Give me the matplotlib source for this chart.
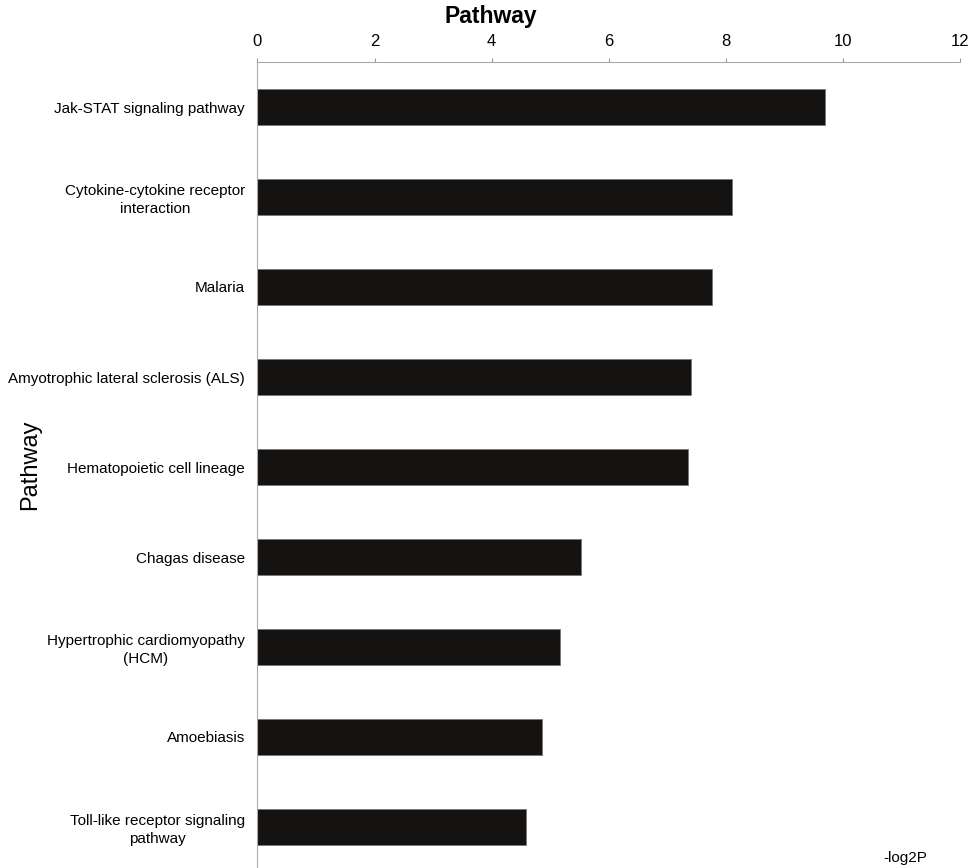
import matplotlib
matplotlib.use('Agg')
import matplotlib.pyplot as plt

plt.rcParams['font.family'] = ['Liberation Sans', 'DejaVu Sans']

# pathways, top to bottom, and their -log2P scores
pathways = ['Jak-STAT signaling pathway',
            'Cytokine-cytokine receptor\ninteraction',
            'Malaria',
            'Amyotrophic lateral sclerosis (ALS)',
            'Hematopoietic cell lineage',
            'Chagas disease',
            'Hypertrophic cardiomyopathy\n(HCM)',
            'Amoebiasis',
            'Toll-like receptor signaling\npathway']
scores = [9.70, 8.10, 7.76, 7.40, 7.35, 5.53, 5.16, 4.86, 4.59]
xticks = [0, 2, 4, 6, 8, 10, 12]

fig = plt.figure(figsize=(9.7, 8.68), dpi=100)
ax = fig.add_axes([257.5 / 970, -4 / 868, 702.5 / 970, 810 / 868])

ypos = list(range(len(pathways)))
ax.barh(ypos, scores, height=0.4, color='#151212', edgecolor='#777777', linewidth=0.6)

ax.set_ylim(len(pathways) - 0.5, -0.5)
ax.set_xlim(0, 12)
ax.set_xticks(xticks)
ax.xaxis.tick_top()
ax.tick_params(axis='x', direction='out', length=3, width=0.8, color='#999999',
               labelsize=12, pad=6)
ax.set_yticks(ypos)
ax.set_yticklabels(pathways, multialignment='center', fontsize=11, linespacing=1.3)
ax.tick_params(axis='y', length=0, pad=9)

for side in ['right', 'bottom']:
    ax.spines[side].set_visible(False)
for side in ['left', 'top']:
    ax.spines[side].set_color('#aaaaaa')
    ax.spines[side].set_linewidth(0.8)

fig.text(491 / 970, 1 - 17 / 868, 'Pathway', ha='center', va='center',
         fontsize=16.5, fontweight='bold')
fig.text(30 / 970, 1 - 465 / 868, 'Pathway', ha='center', va='center',
         fontsize=17, rotation=90)
fig.text(905 / 970, 1 - 858 / 868, '-log2P', ha='center', va='center', fontsize=11)

fig.savefig('out.png', dpi=100)
